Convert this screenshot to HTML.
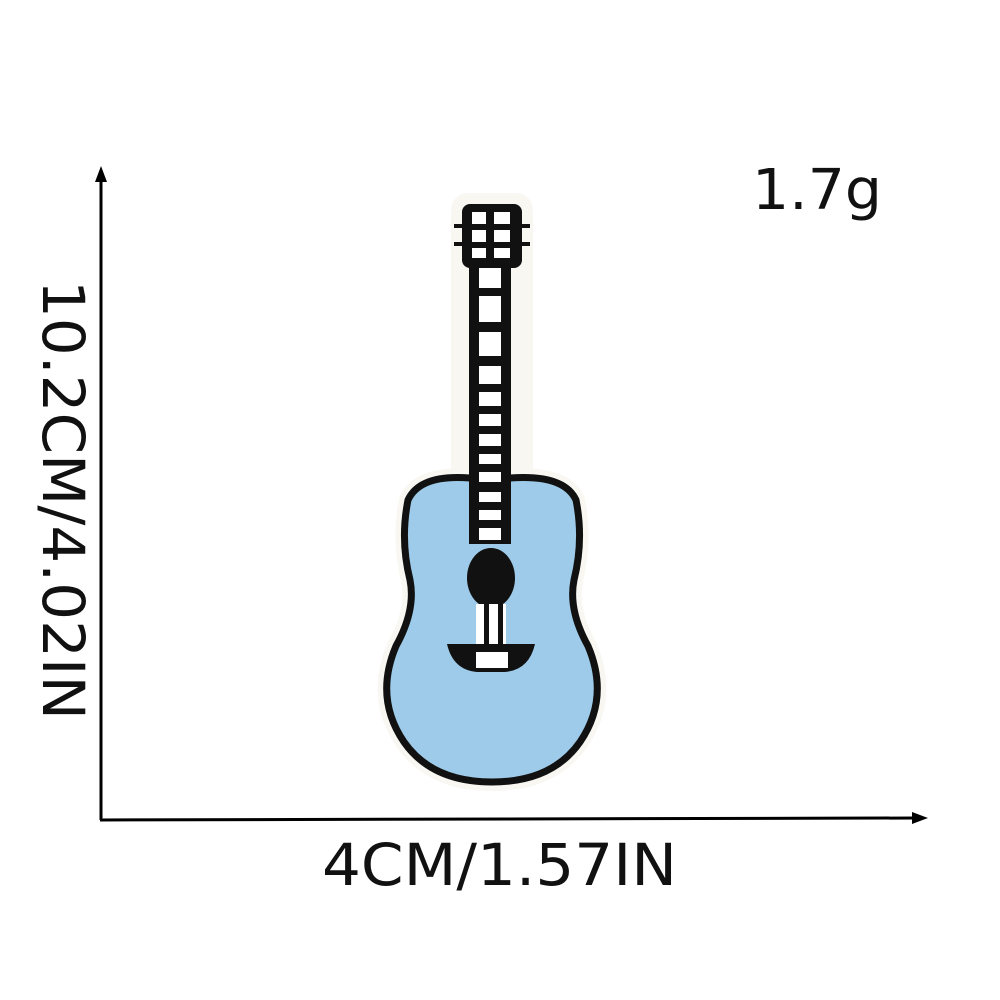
<!DOCTYPE html>
<html><head><meta charset="utf-8"><style>
html,body{margin:0;padding:0;background:#fff;width:1000px;height:1000px;overflow:hidden}
svg{display:block}
text{font-family:"DejaVu Sans","Liberation Sans",sans-serif;fill:#111}
</style></head><body>
<svg width="1000" height="1000" viewBox="0 0 1000 1000">
<g>
<line x1="101" y1="820" x2="101" y2="178" stroke="#000" stroke-width="3"/>
<polygon points="101,166 95,182 107,182" fill="#000"/>
<line x1="100" y1="820" x2="915" y2="818" stroke="#000" stroke-width="3"/>
<polygon points="928,818 912,812 912,824" fill="#000"/>
</g>
<text x="752" y="209" font-size="56" textLength="130" lengthAdjust="spacingAndGlyphs">1.7g</text>
<text x="322" y="885" font-size="58" textLength="355" lengthAdjust="spacingAndGlyphs">4CM/1.57IN</text>
<text transform="translate(43,280) rotate(90)" font-size="58" textLength="440" lengthAdjust="spacingAndGlyphs">10.2CM/4.02IN</text>
<g>
<g fill="#f8f7f2" stroke="#f8f7f2" stroke-width="18" stroke-linejoin="round">
<rect x="460" y="202" width="64" height="284" rx="8"/>
<path d="M470,478 q-50,-4 -62,22 q-8,40 2,80 q6,30 -14,66 q-22,52 8,96 q28,40 88,40 q60,0 88,-40 q30,-44 8,-96 q-20,-36 -14,-66 q10,-40 2,-80 q-12,-26 -66,-22z"/>
</g>
<path d="M470,478 q-50,-4 -62,22 q-8,40 2,80 q6,30 -14,66 q-22,52 8,96 q28,40 88,40 q60,0 88,-40 q30,-44 8,-96 q-20,-36 -14,-66 q10,-40 2,-80 q-12,-26 -66,-22z" fill="#9ecbe9" stroke="#111" stroke-width="7"/>
<rect x="469" y="262" width="42" height="282" fill="#111"/>
<g fill="#fff">
<rect x="479" y="268" width="22" height="20"/><rect x="479" y="296" width="22" height="26"/>
<rect x="479" y="332" width="22" height="24"/><rect x="479" y="366" width="22" height="18"/>
<rect x="479" y="392" width="22" height="14"/><rect x="479" y="414" width="22" height="12"/>
<rect x="479" y="434" width="22" height="12"/><rect x="479" y="454" width="22" height="10"/>
<rect x="479" y="472" width="22" height="10"/><rect x="479" y="492" width="22" height="10"/>
<rect x="479" y="510" width="22" height="10"/><rect x="479" y="528" width="22" height="12"/>
</g>
<rect x="462" y="204" width="60" height="64" rx="8" fill="#111"/>
<g fill="#fff"><rect x="472" y="212" width="14" height="12"/><rect x="494" y="212" width="16" height="12"/>
<rect x="472" y="230" width="14" height="12"/><rect x="494" y="230" width="16" height="12"/>
<rect x="472" y="248" width="14" height="10"/><rect x="494" y="248" width="16" height="10"/></g>
<g stroke="#111" stroke-width="4">
<line x1="454" y1="226" x2="462" y2="226"/><line x1="454" y1="244" x2="462" y2="244"/>
<line x1="522" y1="226" x2="530" y2="226"/><line x1="522" y1="244" x2="530" y2="244"/>
</g>
<ellipse cx="491" cy="578" rx="24" ry="30" fill="#111"/>
<rect x="476" y="604" width="30" height="42" fill="#fff"/>
<rect x="484" y="604" width="5" height="42" fill="#111"/><rect x="498" y="604" width="5" height="42" fill="#111"/>
<path d="M447,644 h88 q-6,26 -30,28 h-28 q-24,-2 -30,-28z" fill="#111"/>
<rect x="476" y="652" width="32" height="16" fill="#fff"/>
</g>
</svg>
</body></html>
